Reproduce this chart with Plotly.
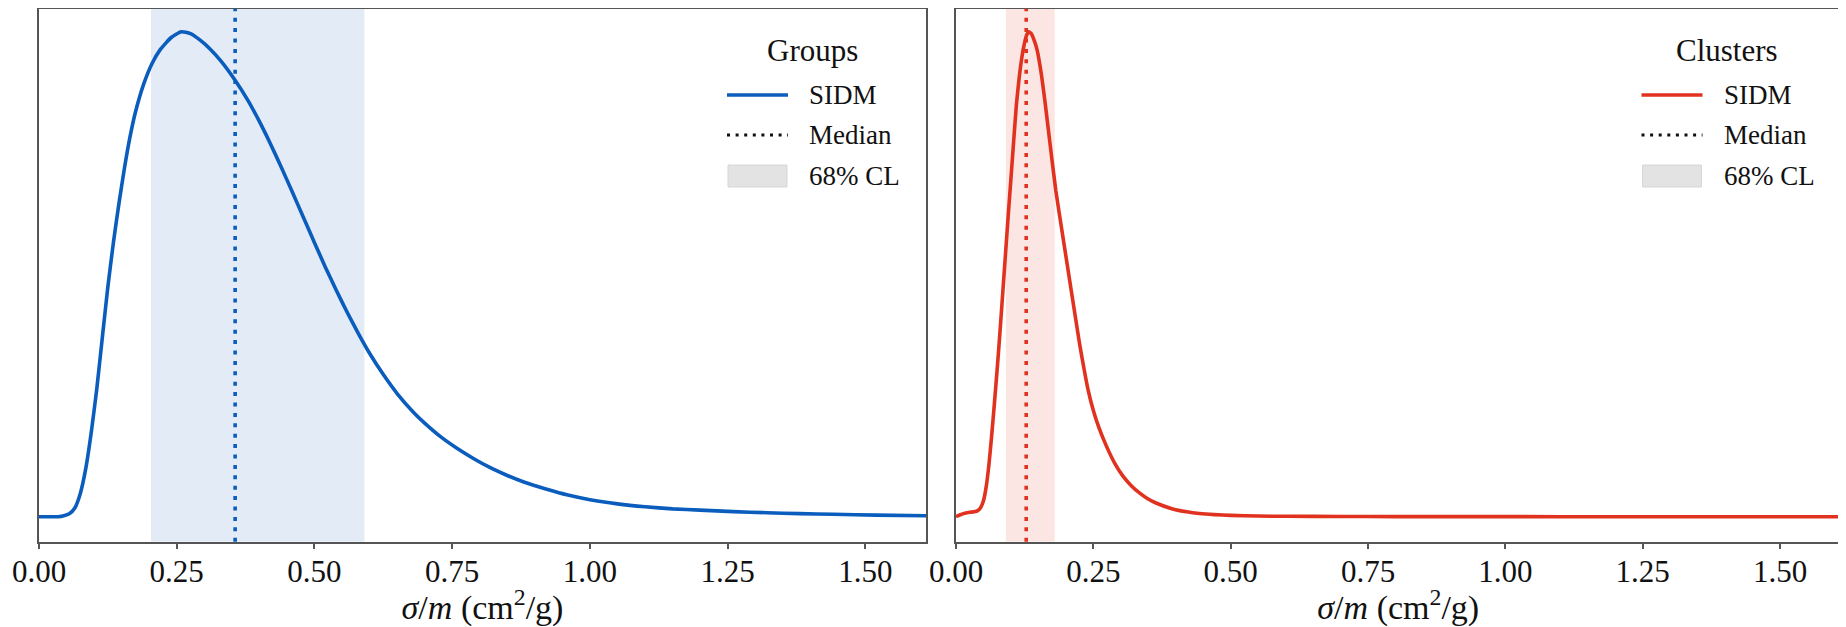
import plotly.graph_objects as go

# ---------------- data ----------------
groups_x = [0.000, 0.035, 0.045, 0.055, 0.065, 0.075, 0.085, 0.095, 0.105, 0.115,
            0.125, 0.135, 0.145, 0.155, 0.165, 0.175, 0.190, 0.205, 0.220, 0.240,
            0.258, 0.275, 0.292, 0.310, 0.330, 0.356, 0.380, 0.400, 0.420, 0.440,
            0.460, 0.480, 0.500, 0.520, 0.540, 0.560, 0.580, 0.600, 0.625, 0.650,
            0.680, 0.700, 0.730, 0.760, 0.790, 0.820, 0.850, 0.880, 0.920, 0.960,
            1.000, 1.050, 1.100, 1.150, 1.200, 1.260, 1.321, 1.380, 1.442, 1.520, 1.610]
groups_y = [0.000, 0.000, 0.002, 0.006, 0.018, 0.048, 0.100, 0.175, 0.265, 0.370,
            0.474, 0.565, 0.645, 0.718, 0.782, 0.834, 0.892, 0.934, 0.963, 0.988,
            1.000, 0.996, 0.983, 0.965, 0.940, 0.900, 0.857, 0.815, 0.769, 0.720,
            0.669, 0.617, 0.565, 0.514, 0.466, 0.420, 0.377, 0.337, 0.293, 0.254,
            0.215, 0.193, 0.164, 0.140, 0.119, 0.1005, 0.085, 0.0715, 0.057, 0.0445,
            0.0350, 0.0265, 0.0205, 0.0162, 0.0135, 0.0105, 0.0082, 0.0063, 0.0049, 0.0033, 0.0020]

clusters_x = [0.000, 0.008, 0.016, 0.025, 0.033, 0.040, 0.045, 0.050, 0.055, 0.060,
              0.065, 0.070, 0.075, 0.080, 0.085, 0.090, 0.095, 0.100, 0.105, 0.110,
              0.115, 0.120, 0.125, 0.129, 0.1325, 0.137, 0.142, 0.1477, 0.155, 0.1616,
              0.170, 0.1816, 0.195, 0.2097, 0.225, 0.233, 0.2403, 0.250, 0.260, 0.2736,
              0.289, 0.3039, 0.319, 0.334, 0.349, 0.364, 0.3945, 0.420, 0.443, 0.470,
              0.500, 0.550, 0.600, 0.700, 0.800, 1.000, 1.200, 1.610]
clusters_y = [0.000, 0.004, 0.007, 0.009, 0.010, 0.013, 0.019, 0.033, 0.062, 0.108,
              0.168, 0.235, 0.305, 0.380, 0.460, 0.540, 0.620, 0.697, 0.775, 0.850,
              0.905, 0.948, 0.978, 0.994, 1.000, 0.996, 0.983, 0.962, 0.915, 0.859,
              0.780, 0.673, 0.574, 0.467, 0.356, 0.305, 0.262, 0.219, 0.184, 0.146,
              0.110, 0.0835, 0.064, 0.049, 0.037, 0.0282, 0.0160, 0.0100, 0.0065, 0.0042,
              0.0027, 0.0014, 0.0008, 0.0004, 0.0002, 0.0001, 0.0, 0.0]

groups_band = [0.2033, 0.5906]
groups_median = 0.356
clusters_band = [0.0908, 0.1797]
clusters_median = 0.1278

panel_titles = ["Groups", "Clusters"]
legend_labels = ["SIDM", "Median", "68% CL"]
tick_vals = [0.0, 0.25, 0.5, 0.75, 1.0, 1.25, 1.5]
tick_text = ["0.00", "0.25", "0.50", "0.75", "1.00", "1.25", "1.50"]
x_range = [0.0, 1.61]
x_title = "<i>σ</i>/<i>m</i> (cm<sup>2</sup>/g)"

# ---------------- styles / geometry ----------------
BLUE = "#0a5dbd"
RED = "#e0321f"
BLUE_BAND = "#e3ecf6"
RED_BAND = "#fbe6e4"
FONT = "Liberation Serif"
OFF = 8                      # page body margin
W, H = 1846 - OFF, 627 - OFF

top_px, bot_px = 8.75, 541.7     # window pixels of plot area
zero_px, one_px = 516.7, 31.7    # window pixels of y=0 and y=1
per = zero_px - one_px
y_range = [-(bot_px - zero_px) / per, 1 + (one_px - top_px) / per]

panel_px = [(39, 926), (956, 1840.5)]
dom_x = [[(a - OFF) / W, (b - OFF) / W] for a, b in panel_px]
dom_y = [(627 - bot_px) / H, (627 - top_px) / H]
panel_h = bot_px - top_px

fig = go.Figure()

panels = [
    (groups_x, groups_y, groups_band, groups_median, BLUE, BLUE_BAND, "x", "y"),
    (clusters_x, clusters_y, clusters_band, clusters_median, RED, RED_BAND, "x2", "y2"),
]

shapes = []
annotations = []

for i, (xs, ys, band, med, col, bandcol, xa, ya) in enumerate(panels):
    fig.add_trace(go.Scatter(x=xs, y=ys, mode="lines", xaxis=xa, yaxis=ya,
                             line=dict(color=col, width=3.6, shape="spline", smoothing=0.5),
                             showlegend=False, hoverinfo="skip"))
    shapes.append(dict(type="rect", xref=xa, yref=f"{ya} domain", x0=band[0], x1=band[1],
                       y0=0, y1=1, fillcolor=bandcol, line=dict(width=0), layer="below"))
    shapes.append(dict(type="line", xref=xa, yref=f"{ya} domain", x0=med, x1=med,
                       y0=0, y1=1, line=dict(color=col, width=3.6, dash="4px,6.4px"),
                       layer="above"))

    pw = panel_px[i][1] - panel_px[i][0]

    def fx(dx, pw=pw):
        return 1 + dx / pw

    def fy(py):
        return (bot_px - py) / panel_h

    xd, yd = f"{xa} domain", f"{ya} domain"
    annotations.append(dict(xref=xd, yref=yd, x=fx(-114), y=fy(50), text=panel_titles[i],
                            showarrow=False, xanchor="center", yanchor="middle",
                            font=dict(family=FONT, size=31, color="#111")))
    rows = [95, 135, 176]
    shapes.append(dict(type="line", xref=xd, yref=yd, x0=fx(-199), x1=fx(-138),
                       y0=fy(rows[0]), y1=fy(rows[0]), line=dict(color=col, width=3.6)))
    shapes.append(dict(type="line", xref=xd, yref=yd, x0=fx(-199), x1=fx(-138),
                       y0=fy(rows[1]), y1=fy(rows[1]),
                       line=dict(color="#111", width=3, dash="3px,5.6px")))
    shapes.append(dict(type="rect", xref=xd, yref=yd, x0=fx(-198), x1=fx(-139),
                       y0=fy(rows[2] + 11), y1=fy(rows[2] - 11), fillcolor="#e3e3e3",
                       line=dict(color="#d6d6d6", width=1)))
    for r, lab in zip(rows, legend_labels):
        annotations.append(dict(xref=xd, yref=yd, x=fx(-119), y=fy(r), text=lab,
                                showarrow=False, xanchor="left", yanchor="middle",
                                font=dict(family=FONT, size=27, color="#111")))

axis_common = dict(showgrid=False, zeroline=False, showline=True, linecolor="#555",
                   linewidth=1.5, mirror=True, automargin=False)
xaxis_common = dict(range=x_range, tickvals=tick_vals, ticktext=tick_text,
                    ticks="outside", ticklen=6, tickwidth=1.5, tickcolor="#555",
                    ticklabelstandoff=-5,
                    tickfont=dict(family=FONT, size=31, color="#111"),
                    title=dict(text=x_title, font=dict(family=FONT, size=34, color="#111"),
                               standoff=8),
                    **axis_common)

fig.update_layout(
    width=W, height=H,
    margin=dict(l=0, r=0, t=0, b=0),
    paper_bgcolor="white", plot_bgcolor="white",
    font=dict(family=FONT, color="#111"),
    shapes=shapes, annotations=annotations,
    xaxis=dict(domain=dom_x[0], anchor="y", **xaxis_common),
    yaxis=dict(domain=dom_y, range=y_range, anchor="x", showticklabels=False, ticks="",
               **axis_common),
    xaxis2=dict(domain=dom_x[1], anchor="y2", **xaxis_common),
    yaxis2=dict(domain=dom_y, range=y_range, anchor="x2", showticklabels=False, ticks="",
                **axis_common),
)

fig.write_html("out.html")
